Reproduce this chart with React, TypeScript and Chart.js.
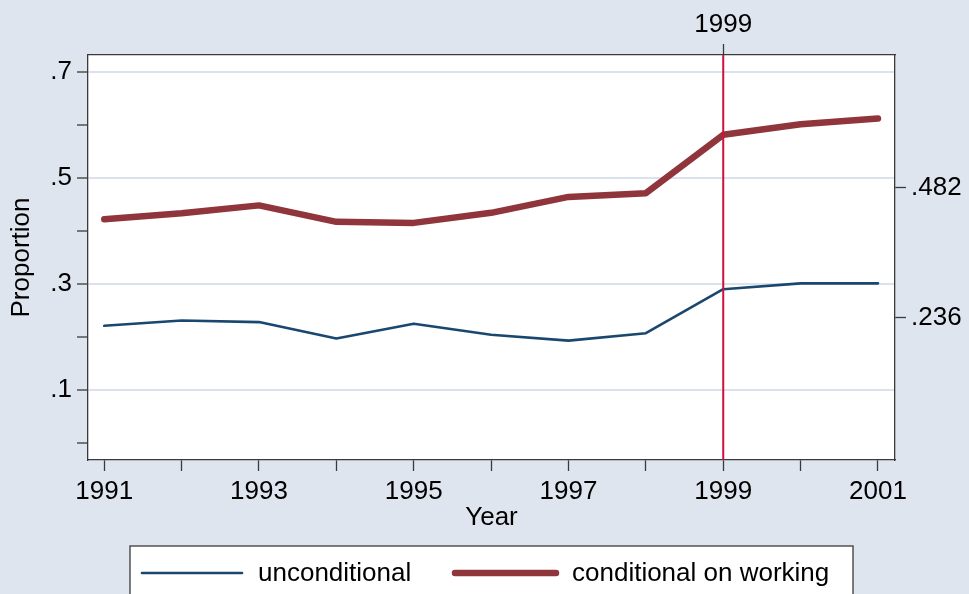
import React, { useEffect, useRef } from 'react';
import { Chart, registerables } from 'chart.js';

Chart.register(...registerables);

// ---- data ----
const years = [1991, 1992, 1993, 1994, 1995, 1996, 1997, 1998, 1999, 2000, 2001];
const unconditional = [0.221, 0.231, 0.228, 0.197, 0.225, 0.204, 0.193, 0.207, 0.290, 0.301, 0.301];
const conditionalOnWorking = [0.422, 0.433, 0.448, 0.417, 0.415, 0.434, 0.464, 0.471, 0.581, 0.601, 0.612];
const seriesLabels = ['unconditional', 'conditional on working'];
const leftTicks = [0, 0.1, 0.2, 0.3, 0.4, 0.5, 0.6, 0.7];
const leftLabelled = [0.1, 0.3, 0.5, 0.7];
const rightTicks = [0.236, 0.482];
const rightTickLabels = ['.236', '.482'];
const xLabelled = [1991, 1993, 1995, 1997, 1999, 2001];
const refYear = 1999;
const refYearLabel = '1999';

const FONT = "'Liberation Sans', Arial, Helvetica, sans-serif";
const BG = '#dfe5ef';
const GRID = '#dbe2ed';
const AXIS = '#3a3a3a';
const BLUE = '#1a476f';
const RED = '#90353b';
const VLINE = '#d0103c';
const FS = 26;

const isIn = (arr: number[], v: number) => arr.some((a) => Math.abs(a - v) < 1e-6);
const fmt = (v: number) => v.toFixed(1).replace(/^0/, '');

const X_MIN = 1990.79;
const X_MAX = 2001.22;
const Y_MIN = -0.032;
const Y_MAX = 0.7315;

const bgPlugin = {
  id: 'bgPlugin',
  beforeDraw(chart: any) {
    const { ctx, chartArea } = chart;
    ctx.save();
    ctx.fillStyle = BG;
    ctx.fillRect(0, 0, chart.width, chart.height);
    ctx.fillStyle = '#ffffff';
    ctx.fillRect(chartArea.left, chartArea.top, chartArea.right - chartArea.left, chartArea.bottom - chartArea.top);
    ctx.restore();
  },
};

const refLinePlugin = {
  id: 'refLinePlugin',
  afterDatasetsDraw(chart: any) {
    const { ctx, chartArea } = chart;
    const x = chart.scales.x2.getPixelForValue(refYear);
    ctx.save();
    ctx.strokeStyle = VLINE;
    ctx.lineWidth = 2;
    ctx.beginPath();
    ctx.moveTo(x, chartArea.top);
    ctx.lineTo(x, chartArea.bottom);
    ctx.stroke();
    ctx.restore();
  },
};

const legendPlugin = {
  id: 'stataLegend',
  afterDraw(chart: any) {
    const { ctx } = chart;
    const ds = chart.data.datasets;
    const boxL = 130, boxT = 546, boxR = 853, boxB = 610;
    const cy = 573;
    ctx.save();
    ctx.fillStyle = '#ffffff';
    ctx.fillRect(boxL, boxT, boxR - boxL, boxB - boxT);
    ctx.strokeStyle = AXIS;
    ctx.lineWidth = 1.3;
    ctx.strokeRect(boxL, boxT, boxR - boxL, boxB - boxT);
    const items = [
      { x0: 142, x1: 242, tx: 258 },
      { x0: 455, x1: 556, tx: 572 },
    ];
    items.forEach((it, i) => {
      const d = ds[i];
      ctx.strokeStyle = d.borderColor;
      ctx.lineWidth = d.borderWidth;
      ctx.lineCap = 'round';
      ctx.beginPath();
      ctx.moveTo(it.x0, cy);
      ctx.lineTo(it.x1, cy);
      ctx.stroke();
      ctx.fillStyle = '#000000';
      ctx.font = `${FS}px ${FONT}`;
      ctx.textAlign = 'left';
      ctx.textBaseline = 'middle';
      ctx.fillText(d.label, it.tx, cy + 1);
    });
    ctx.restore();
  },
};

export default function App() {
  const ref = useRef<HTMLCanvasElement | null>(null);

  useEffect(() => {
    document.body.style.margin = '0';
    const canvas = ref.current;
    if (!canvas) return;
    const tickFont = { family: FONT, size: FS };
    const chart = new Chart(canvas, {
      type: 'line',
      data: {
        datasets: [
          {
            label: seriesLabels[0],
            data: years.map((y, i) => ({ x: y, y: unconditional[i] })),
            borderColor: BLUE,
            borderWidth: 2.6,
            pointRadius: 0,
            tension: 0,
            fill: false,
            borderCapStyle: 'round',
            borderJoinStyle: 'round',
          },
          {
            label: seriesLabels[1],
            data: years.map((y, i) => ({ x: y, y: conditionalOnWorking[i] })),
            borderColor: RED,
            borderWidth: 6.5,
            pointRadius: 0,
            tension: 0,
            fill: false,
            borderCapStyle: 'round',
            borderJoinStyle: 'round',
          },
        ],
      },
      options: {
        animation: false,
        responsive: false,
        layout: { padding: 0 },
        plugins: { legend: { display: false }, tooltip: { enabled: false } },
        scales: {
          x: {
            type: 'linear',
            position: 'bottom',
            min: X_MIN,
            max: X_MAX,
            afterBuildTicks: (s: any) => {
              s.ticks = years.map((v) => ({ value: v }));
            },
            afterFit: (s: any) => {
              s.height = 134;
            },
            ticks: {
              autoSkip: false,
              maxRotation: 0,
              padding: 5,
              color: '#000',
              font: tickFont,
              callback: (v: any) => (isIn(xLabelled, Number(v)) ? String(v) : ''),
            },
            grid: { drawOnChartArea: false, tickLength: 11, tickColor: AXIS, tickWidth: 1.3 },
            border: { display: true, color: AXIS, width: 1.3 },
            title: { display: true, text: 'Year', color: '#000', font: tickFont, padding: { top: 0, bottom: 61 } },
          },
          x2: {
            type: 'linear',
            position: 'top',
            min: X_MIN,
            max: X_MAX,
            afterBuildTicks: (s: any) => {
              s.ticks = [{ value: refYear }];
            },
            afterFit: (s: any) => {
              s.height = 55;
            },
            ticks: {
              autoSkip: false,
              maxRotation: 0,
              padding: 4,
              color: '#000',
              font: tickFont,
              callback: () => refYearLabel,
            },
            grid: { drawOnChartArea: false, tickLength: 11, tickColor: AXIS, tickWidth: 1.3 },
            border: { display: true, color: AXIS, width: 1.3 },
          },
          y: {
            type: 'linear',
            position: 'left',
            min: Y_MIN,
            max: Y_MAX,
            afterBuildTicks: (s: any) => {
              s.ticks = leftTicks.map((v) => ({ value: v }));
            },
            afterFit: (s: any) => {
              s.width = 88;
            },
            ticks: {
              autoSkip: false,
              padding: 5,
              color: '#000',
              font: tickFont,
              callback: (v: any) => (isIn(leftLabelled, Number(v)) ? fmt(Number(v)) : ''),
            },
            grid: {
              drawOnChartArea: true,
              lineWidth: 2,
              color: (c: any) => (c.tick && isIn(leftLabelled, c.tick.value) ? GRID : 'rgba(0,0,0,0)'),
              tickLength: 11,
              tickColor: AXIS,
              tickWidth: 1.3,
            },
            border: { display: true, color: AXIS, width: 1.3 },
            title: { display: true, text: 'Proportion', color: '#000', font: tickFont, padding: { top: 6, bottom: 0 } },
          },
          y2: {
            type: 'linear',
            position: 'right',
            min: Y_MIN,
            max: Y_MAX,
            afterBuildTicks: (s: any) => {
              s.ticks = rightTicks.map((v) => ({ value: v }));
            },
            afterFit: (s: any) => {
              s.width = 74;
            },
            ticks: {
              autoSkip: false,
              padding: 5,
              color: '#000',
              font: tickFont,
              callback: (_v: any, i: number) => rightTickLabels[i],
            },
            grid: { drawOnChartArea: false, tickLength: 11, tickColor: AXIS, tickWidth: 1.3 },
            border: { display: true, color: AXIS, width: 1.3 },
          },
        },
      } as any,
      plugins: [bgPlugin, refLinePlugin, legendPlugin],
    });
    return () => chart.destroy();
  }, []);

  return (
    <div style={{ width: 969, height: 594, background: BG, overflow: 'hidden' }}>
      <canvas ref={ref} width={969} height={594} style={{ display: 'block', width: 969, height: 594 }} />
    </div>
  );
}
